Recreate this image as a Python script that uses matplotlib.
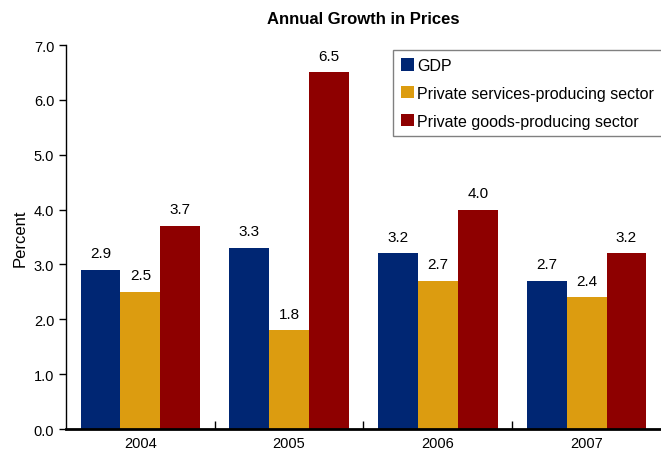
import numpy as np
import matplotlib
matplotlib.use('Agg')
from matplotlib import pyplot as plt

plt.rcParams['font.family'] = ['Liberation Sans', 'DejaVu Sans']

years = ['2004', '2005', '2006', '2007']
series = ['GDP', 'Private services-producing sector', 'Private goods-producing sector']
gdp = [2.9, 3.3, 3.2, 2.7]
services = [2.5, 1.8, 2.7, 2.4]
goods = [3.7, 6.5, 4.0, 3.2]
colors = ['#002673', '#DC9C10', '#8E0000']

fig = plt.figure(figsize=(6.61, 4.56), dpi=100)
ax = fig.add_axes([0.0998, 0.057, 0.9002, 0.842])

x = np.arange(len(years))
w = 0.268
for i, (vals, name) in enumerate(zip([gdp, services, goods], series)):
    bars = ax.bar(x + (i - 1) * w, vals, w, color=colors[i], label=name, zorder=2)
    for b, v in zip(bars, vals):
        ax.annotate('%.1f' % v, (b.get_x() + b.get_width() / 2, v), xytext=(0, 7),
                    textcoords='offset points', ha='center', va='bottom', fontsize=11)

ax.set_xlim(-0.5, 3.5)
ax.set_ylim(0, 7)
ax.set_yticks(np.arange(0, 7.1, 1.0))
ax.set_yticklabels(['%.1f' % t for t in np.arange(0, 7.1, 1.0)], fontsize=10.5)
ax.set_xticks(x)
ax.set_xticklabels(years, fontsize=10.5)
ax.set_xticks([0.5, 1.5, 2.5], minor=True)
ax.tick_params(axis='x', which='major', length=0, pad=5)
ax.tick_params(axis='x', which='minor', direction='in', length=6, width=1)
ax.tick_params(axis='y', direction='out', length=5, width=1)
ax.spines['top'].set_visible(False)
ax.spines['right'].set_visible(False)
ax.spines['bottom'].set_linewidth(2)
ax.spines['left'].set_linewidth(1)
ax.set_ylabel('Percent', fontsize=12, labelpad=4)
ax.set_title('Annual Growth in Prices', fontsize=12, fontweight='bold', pad=16)

leg = ax.legend(loc='upper left', bbox_to_anchor=(0.536, 1.008), fontsize=11.5,
                handlelength=0.8, handleheight=0.8, handletextpad=0.2,
                labelspacing=0.8, borderpad=0.5, fancybox=False, framealpha=1)
leg.get_frame().set_edgecolor('#808080')
leg.get_frame().set_linewidth(1)

fig.savefig('out.png', dpi=100)
